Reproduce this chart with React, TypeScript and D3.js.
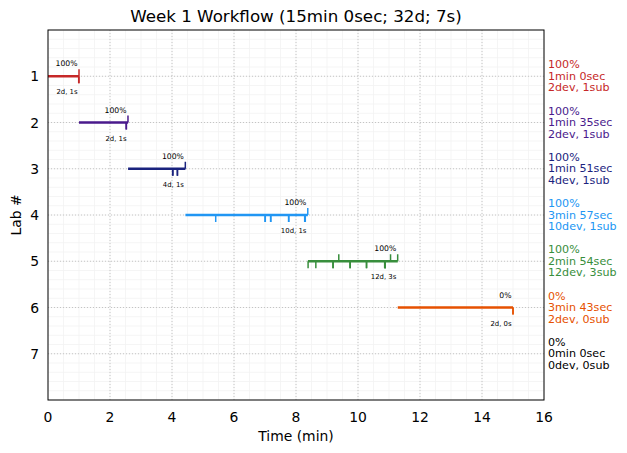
import React from "react";
import * as d3 from "d3";

const TITLE = "Week 1 Workflow (15min 0sec; 32d; 7s)";
const labs = [1, 2, 3, 4, 5, 6, 7];
const colors = ["#c62828", "#4a1a8c", "#1a237e", "#2196f3", "#388e3c", "#e65100", "#000000"];
const starts: (number | null)[] = [0, 1.0, 2.583, 4.433, 8.383, 11.283, null];
const ends: (number | null)[] = [1.0, 2.583, 4.433, 8.383, 11.283, 15.0, null];
const subTimes: number[][] = [[1.0], [2.58], [4.43], [8.38], [9.38, 11.05, 11.28], [], []];
const devTimes: number[][] = [
  [0.99, 1.0],
  [2.52, 2.53],
  [4.02, 4.03, 4.17, 4.18],
  [5.41, 7.0, 7.01, 7.18, 7.19, 7.76, 7.77, 8.28, 8.29, 8.3],
  [8.39, 8.64, 9.19, 9.2, 9.74, 9.75, 10.27, 10.28, 10.86, 10.87, 10.88, 10.88],
  [15.0, 15.0],
  [],
];
const pctLabels = ["100%", "100%", "100%", "100%", "100%", "0%", "0%"];
const timeLabels = ["1min 0sec", "1min 35sec", "1min 51sec", "3min 57sec", "2min 54sec", "3min 43sec", "0min 0sec"];
const countLabels = ["2dev, 1sub", "2dev, 1sub", "4dev, 1sub", "10dev, 1sub", "12dev, 3sub", "2dev, 0sub", "0dev, 0sub"];
const xTicks = [0, 2, 4, 6, 8, 10, 12, 14, 16];

const W = 627;
const H = 453;
const M = { top: 30, right: 83, bottom: 53, left: 48 };
const FONT = "DejaVu Sans, sans-serif";

export default function App() {
  const x = d3.scaleLinear().domain([0, 16]).range([M.left, W - M.right]);
  const y = d3.scaleLinear().domain([0, 8]).range([M.top, H - M.bottom]);
  const xMinor = d3.range(0, 16.01, 0.5);
  const yMinor = d3.range(0, 8.01, 0.2);
  const tickLen = 7;

  return (
    <svg
      width={W}
      height={H}
      style={{ position: "absolute", left: 0, top: 0, background: "#fff" }}
      fontFamily={FONT}
    >
      {/* minor grid */}
      <g stroke="#f2f2f2" strokeWidth={0.8}>
        {xMinor.map((v, i) => (
          <line key={"xm" + i} x1={x(v)} x2={x(v)} y1={y(0)} y2={y(8)} />
        ))}
        {yMinor.map((v, i) => (
          <line key={"ym" + i} x1={x(0)} x2={x(16)} y1={y(v)} y2={y(v)} />
        ))}
      </g>
      {/* major grid */}
      <g stroke="#b8b8b8" strokeWidth={0.8} strokeDasharray="1,2">
        {xTicks.slice(1, -1).map((v) => (
          <line key={"xg" + v} x1={x(v)} x2={x(v)} y1={y(0)} y2={y(8)} />
        ))}
        {labs.map((v) => (
          <line key={"yg" + v} x1={x(0)} x2={x(16)} y1={y(v)} y2={y(v)} />
        ))}
      </g>

      {/* lab segments */}
      {labs.map((lab, i) => {
        const s = starts[i];
        const e = ends[i];
        if (s == null || e == null) return null;
        const yy = y(lab);
        return (
          <g key={"lab" + lab} stroke={colors[i]}>
            <line x1={x(s)} x2={x(e)} y1={yy} y2={yy} strokeWidth={2.5} />
            {subTimes[i].map((t, j) => (
              <line key={"s" + j} x1={x(t)} x2={x(t)} y1={yy} y2={yy - tickLen} strokeWidth={1.5} />
            ))}
            {devTimes[i].map((t, j) => (
              <line key={"d" + j} x1={x(t)} x2={x(t)} y1={yy} y2={yy + tickLen} strokeWidth={1.5} />
            ))}
            <text
              x={x(e) - 1.5}
              y={yy - 12.5}
              stroke="none"
              fill="#000"
              fontSize={7.7}
              textAnchor="end"
              dominantBaseline="central"
            >
              {pctLabels[i]}
            </text>
            <text
              x={x(e) - 1.5}
              y={yy + 16}
              stroke="none"
              fill="#000"
              fontSize={6.9}
              textAnchor="end"
              dominantBaseline="central"
            >
              {`${devTimes[i].length}d, ${subTimes[i].length}s`}
            </text>
          </g>
        );
      })}

      {/* frame */}
      <rect
        x={x(0)}
        y={y(0)}
        width={x(16) - x(0)}
        height={y(8) - y(0)}
        fill="none"
        stroke="#000"
        strokeWidth={1}
      />

      {/* x tick labels */}
      {xTicks.map((v) => (
        <text key={"xt" + v} x={x(v)} y={y(8) + 17} fontSize={13.9} textAnchor="middle" dominantBaseline="central">
          {v}
        </text>
      ))}
      {/* y tick labels */}
      {labs.map((v) => (
        <text key={"yt" + v} x={x(0) - 9} y={y(v)} fontSize={13.9} textAnchor="end" dominantBaseline="central">
          {v}
        </text>
      ))}

      {/* right-side summaries */}
      {labs.map((lab, i) => (
        <g key={"r" + lab} fill={colors[i]} fontSize={11.1}>
          <text x={x(16) + 4} y={y(lab) - 11.5} dominantBaseline="central">{pctLabels[i]}</text>
          <text x={x(16) + 4} y={y(lab)} dominantBaseline="central">{timeLabels[i]}</text>
          <text x={x(16) + 4} y={y(lab) + 11.5} dominantBaseline="central">{countLabels[i]}</text>
        </g>
      ))}

      {/* axis labels & title */}
      <text x={(x(0) + x(16)) / 2} y={436} fontSize={13.9} textAnchor="middle" dominantBaseline="central">
        Time (min)
      </text>
      <text
        transform={`translate(16,${(y(0) + y(8)) / 2}) rotate(-90)`}
        fontSize={13.9}
        textAnchor="middle"
        dominantBaseline="central"
      >
        Lab #
      </text>
      <text x={(x(0) + x(16)) / 2} y={16} fontSize={16.7} textAnchor="middle" dominantBaseline="central">
        {TITLE}
      </text>
    </svg>
  );
}
